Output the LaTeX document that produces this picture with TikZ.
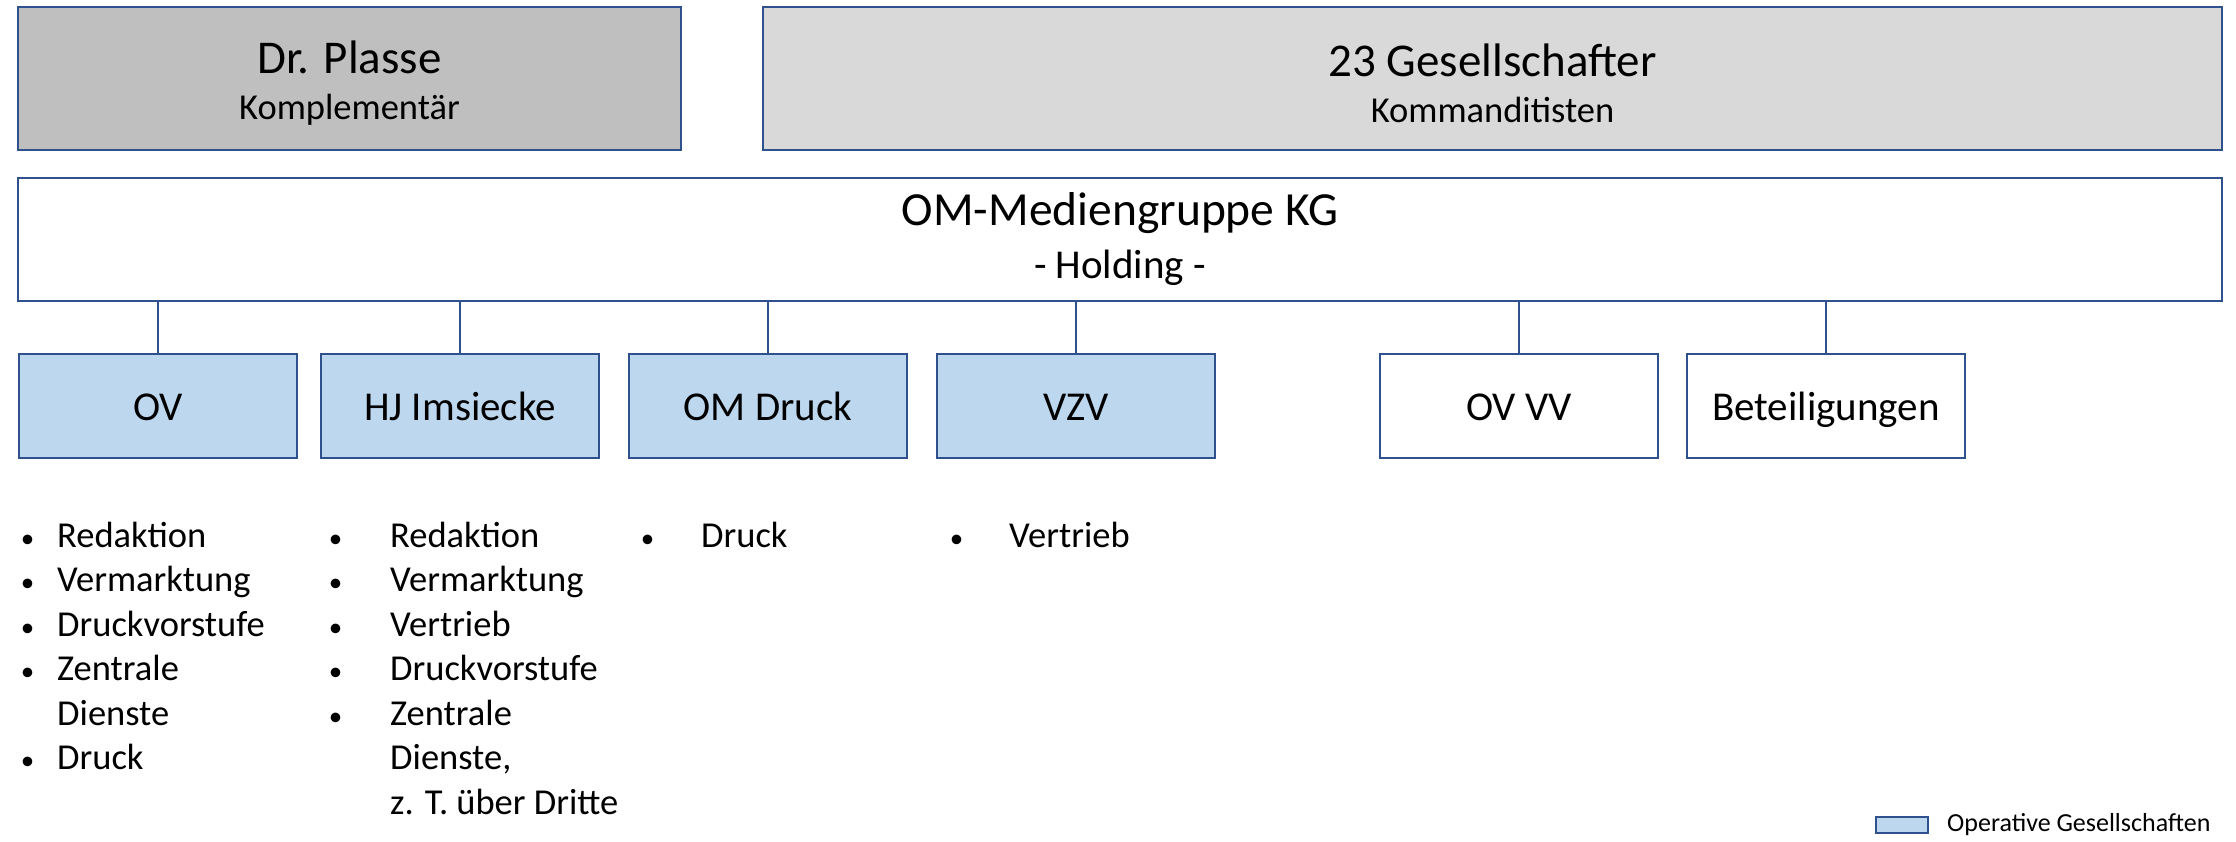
\documentclass[tikz,border=0pt]{standalone}
\usepackage{fontspec}
\setmainfont{Carlito}
\usepackage{tikz}
\usetikzlibrary{positioning}

\definecolor{rahmen}{HTML}{2F528F}
\definecolor{grau}{HTML}{BFBFBF}
\definecolor{hellgrau}{HTML}{D9D9D9}
\definecolor{hellblau}{HTML}{BDD7EE}

% bullet left of the text, #1 = gap
\newcommand{\pkt}[1][23pt]{\llap{{\fontsize{27}{30}\selectfont\textbullet}\hspace{#1}}}

\begin{document}
\begin{tikzpicture}[x=1pt,y=-1pt,node distance=308pt,on grid,
    box/.style={draw=rahmen,line width=2pt,rectangle,inner sep=0pt},
    eigner/.style={box,minimum height=143pt,align=center,font=\fontsize{36.5}{46}\selectfont},
    firma/.style={box,minimum width=278pt,minimum height=104pt,text height=28pt,text depth=0pt,font=\fontsize{41}{48}\selectfont},
    operativ/.style={firma,fill=hellblau},
    liste/.style={anchor=base west,inner sep=0pt,font=\fontsize{36.5}{44.5}\selectfont},
    linie/.style={draw=rahmen,line width=1.8pt}]
   \useasboundingbox (0,0) rectangle (2236,842);

   \node[eigner,fill=grau,minimum width=663pt] (plasse) at (349.5,78.5)
      {{\fontsize{47}{52}\selectfont\rule{0pt}{42pt}Dr. Plasse}\\Komplementär};
   \node[eigner,fill=hellgrau,minimum width=1459pt] (gesell) at (1492.5,78.5)
      {{\fontsize{47}{52}\selectfont\rule{0pt}{42pt}23 Gesellschafter}\\Kommanditisten};
   \node[box,minimum width=2204pt,minimum height=123pt,align=center,font=\fontsize{41}{53}\selectfont] (holding) at (1120,239.5)
      {{\fontsize{47.5}{52}\selectfont\rule{0pt}{33pt}OM-Mediengruppe KG}\\- Holding -};

   \node[operativ] (ov) at (158,406) {OV};
   \node[operativ] (hj) [right=302pt of ov] {HJ Imsiecke};
   \node[operativ] (omdruck) [right=of hj] {OM Druck};
   \node[operativ] (vzv) [right=of omdruck] {VZV};
   \node[firma] (ovvv) [right=443pt of vzv] {OV VV};
   \node[firma] (beteil) [right=307pt of ovvv] {Beteiligungen};

   \foreach \n in {ov,hj,omdruck,vzv,ovvv,beteil}
      \draw[linie] (\n.north) -- (\n.north |- holding.south);

   \node[liste] (ovliste) at (57,547) {\begin{tabular}[t]{@{}l@{}}
      \pkt Redaktion\\ \pkt Vermarktung\\ \pkt Druckvorstufe\\
      \pkt Zentrale\\ Dienste\\ \pkt Druck\end{tabular}};
   \node[liste] (hjliste) at (390,547) {\begin{tabular}[t]{@{}l@{}}
      \pkt[48pt]Redaktion\\ \pkt[48pt]Vermarktung\\ \pkt[48pt]Vertrieb\\
      \pkt[48pt]Druckvorstufe\\ \pkt[48pt]Zentrale\\ Dienste,\\ z. T. über Dritte\end{tabular}};
   \node[liste] (omliste) at (701,547) {\pkt[47pt]Druck};
   \node[liste] (vzvliste) at (1009,547) {\pkt[46pt]Vertrieb};

   \node[box,fill=hellblau,minimum width=52pt,minimum height=16pt] (legbox) at (1902,825) {};
   \node[anchor=west,inner sep=0pt,font=\fontsize{26}{30}\selectfont] (legtext) at ([xshift=18pt]legbox.east) {Operative Gesellschaften};
\end{tikzpicture}
\end{document}
